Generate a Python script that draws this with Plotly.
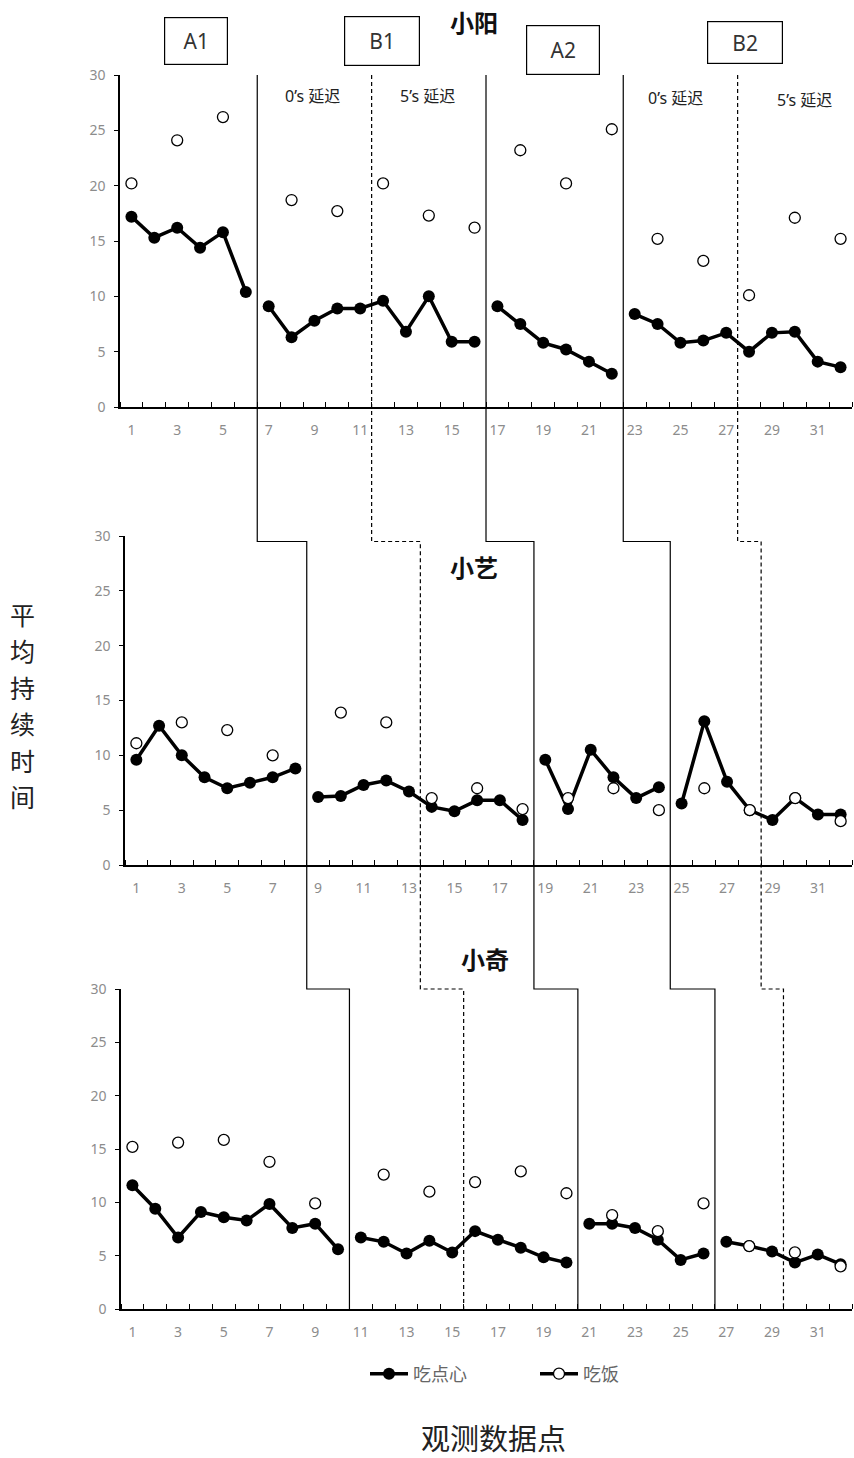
import plotly.graph_objects as go

W, H = 854, 1458

# ---------------- data ----------------
obs = list(range(1, 33))
x_tick_vals = list(range(1, 33, 2))
y_tick_vals = [0, 5, 10, 15, 20, 25, 30]

panel_names = ["小阳", "小艺", "小奇"]

# 小阳
yang_snack = [17.2, 15.3, 16.2, 14.4, 15.8, 10.4, 9.1, 6.3, 7.8, 8.9, 8.9, 9.6, 6.8, 10.0, 5.9, 5.9,
              9.1, 7.5, 5.8, 5.2, 4.1, 3.0, 8.4, 7.5, 5.8, 6.0, 6.7, 5.0, 6.7, 6.8, 4.1, 3.6]
yang_meal_x = [1, 3, 5, 8, 10, 12, 14, 16, 18, 20, 22, 24, 26, 28, 30, 32]
yang_meal = [20.2, 24.1, 26.2, 18.7, 17.7, 20.2, 17.3, 16.2, 23.2, 20.2, 25.1, 15.2, 13.2, 10.1, 17.1, 15.2]

# 小艺
yi_snack = [9.6, 12.7, 10.0, 8.0, 7.0, 7.5, 8.0, 8.8, 6.2, 6.3, 7.3, 7.7, 6.7, 5.3, 4.9, 5.9,
            5.9, 4.1, 9.6, 5.1, 10.5, 8.0, 6.1, 7.1, 5.6, 13.1, 7.6, 5.0, 4.1, 6.1, 4.6, 4.6]
yi_meal_x = [1, 3, 5, 7, 10, 12, 14, 16, 18, 20, 22, 24, 26, 28, 30, 32]
yi_meal = [11.1, 13.0, 12.3, 10.0, 13.9, 13.0, 6.1, 7.0, 5.1, 6.1, 7.0, 5.0, 7.0, 5.0, 6.1, 4.0]

# 小奇
qi_snack = [11.6, 9.4, 6.7, 9.1, 8.6, 8.3, 9.85, 7.6, 8.0, 5.6, 6.7, 6.3, 5.2, 6.4, 5.3, 7.3,
            6.5, 5.75, 4.85, 4.35, 8.0, 8.0, 7.6, 6.5, 4.6, 5.2, 6.3, 5.9, 5.4, 4.35, 5.1, 4.2]
qi_meal_x = [1, 3, 5, 7, 9, 12, 14, 16, 18, 20, 22, 24, 26, 28, 30, 32]
qi_meal = [15.2, 15.6, 15.85, 13.8, 9.9, 12.6, 11.0, 11.9, 12.9, 10.85, 8.8, 7.3, 9.9, 5.9, 5.3, 4.0]

# phase change lines (observation positions) per panel
phase_change_top = [6.5, 11.5, 16.5, 22.5, 27.5]
phase_change_mid = [8.5, 13.5, 18.5, 24.5, 28.5]
phase_change_bot = [10.5, 15.5, 20.5, 26.5, 29.5]
phase_change_kind = ["solid", "dash", "solid", "solid", "dash"]

phase_labels = ["A1", "B1", "A2", "B2"]
delay_labels = ["0’s 延迟", "5’s 延迟", "0’s 延迟", "5’s 延迟"]

legend_names = ["吃点心", "吃饭"]
y_title = "平均持续时间"
x_title = "观测数据点"

# ---------------- layout geometry ----------------
XR = [0.5, 32.5]
YR = [0, 30]
xdom = [[120 / W, 852 / W], [125 / W, 852 / W], [121 / W, 852 / W]]
ydom = [[1 - 407 / H, 1 - 75 / H], [1 - 865 / H, 1 - 536 / H], [1 - 1309 / H, 1 - 989 / H]]


def paper_x(p, v):
    d0, d1 = xdom[p]
    return d0 + (v - XR[0]) / (XR[1] - XR[0]) * (d1 - d0)


def paper_y(p, v):
    d0, d1 = ydom[p]
    return d0 + (v - YR[0]) / (YR[1] - YR[0]) * (d1 - d0)


def px2x(px):
    return px / W


def px2y(px):
    return 1 - px / H


fig = go.Figure()

snacks = [yang_snack, yi_snack, qi_snack]
meals_x = [yang_meal_x, yi_meal_x, qi_meal_x]
meals = [yang_meal, yi_meal, qi_meal]
changes = [phase_change_top, phase_change_mid, phase_change_bot]

for p in range(3):
    xa = "x" if p == 0 else f"x{p + 1}"
    ya = "y" if p == 0 else f"y{p + 1}"
    solid_breaks = [c for c, k in zip(changes[p], phase_change_kind) if k == "solid"]
    # snack line, broken at solid phase-change lines
    sx, sy = [], []
    for xv, yv in zip(obs, snacks[p]):
        if sx and any(sx[-1] is not None and sx[-1] < b < xv for b in solid_breaks):
            sx.append(None)
            sy.append(None)
        sx.append(xv)
        sy.append(yv)
    fig.add_trace(go.Scatter(
        x=sx, y=sy, mode="lines+markers", xaxis=xa, yaxis=ya,
        name=legend_names[0], legendgroup="snack", showlegend=(p == 0),
        line=dict(color="black", width=3.5), connectgaps=False,
        marker=dict(symbol="circle", size=12, color="black"),
    ))
    # meal points (isolated points, no connecting line)
    mx, my = [], []
    for xv, yv in zip(meals_x[p], meals[p]):
        mx += [xv, None]
        my += [yv, None]
    fig.add_trace(go.Scatter(
        x=mx, y=my, mode="lines+markers", xaxis=xa, yaxis=ya,
        name=legend_names[1], legendgroup="meal", showlegend=(p == 0),
        line=dict(color="black", width=3.5), connectgaps=False,
        marker=dict(symbol="circle", size=11, color="white",
                    line=dict(color="black", width=1.3)),
    ))

tick_font = dict(family="Noto Sans, Open Sans, sans-serif", size=14, color="#8c8c8c")
layout_axes = {}
for p in range(3):
    xk = "xaxis" if p == 0 else f"xaxis{p + 1}"
    yk = "yaxis" if p == 0 else f"yaxis{p + 1}"
    ya = "y" if p == 0 else f"y{p + 1}"
    xa = "x" if p == 0 else f"x{p + 1}"
    layout_axes[xk] = dict(
        domain=xdom[p], range=XR, anchor=ya, showgrid=False, zeroline=False,
        showline=True, linecolor="black", linewidth=1.5,
        tickmode="array", tickvals=x_tick_vals, ticks="", tickfont=tick_font,
        ticklabelstandoff=9, automargin=False,
        minor=dict(tickmode="linear", tick0=0.5, dtick=1, ticks="inside",
                   ticklen=5, tickcolor="black", tickwidth=1, showgrid=False),
    )
    layout_axes[yk] = dict(
        domain=ydom[p], range=YR, anchor=xa, showgrid=False, zeroline=False,
        showline=True, linecolor="black", linewidth=1.5, automargin=False,
        tickmode="array", tickvals=y_tick_vals, ticks="outside", ticklen=4,
        tickcolor="black", tickfont=tick_font, ticklabelstandoff=6,
    )

# phase-change staircase lines
shapes = []
for i, kind in enumerate(phase_change_kind):
    xt, xm, xb = phase_change_top[i], phase_change_mid[i], phase_change_bot[i]
    pts = [
        (paper_x(0, xt), paper_y(0, 30)),
        (paper_x(0, xt), paper_y(1, 29.5)),
        (paper_x(1, xm), paper_y(1, 29.5)),
        (paper_x(1, xm), paper_y(2, 30)),
        (paper_x(2, xb), paper_y(2, 30)),
        (paper_x(2, xb), paper_y(2, 0)),
    ]
    path = "M " + " L ".join(f"{a:.5f},{b:.5f}" for a, b in pts)
    shapes.append(dict(
        type="path", path=path, xref="paper", yref="paper",
        line=dict(color="black", width=1.2, dash="solid" if kind == "solid" else "4px,3px"),
        layer="above",
    ))

cjk = "Noto Sans CJK SC, sans-serif"
mixed = "Noto Sans, Noto Sans CJK SC, sans-serif"
annotations = []
# boxed phase labels
box_specs = [(196, 41, 62, 46), (382, 41, 74, 48), (563, 50, 72, 48), (745, 43, 74, 41)]
for lab, (cx, cy, bw, bh) in zip(phase_labels, box_specs):
    annotations.append(dict(
        text=lab, x=px2x(cx), y=px2y(cy), xref="paper", yref="paper",
        showarrow=False, width=bw, height=bh, borderpad=0,
        bordercolor="black", borderwidth=1.2, bgcolor="white",
        font=dict(family="Noto Sans, sans-serif", size=21, color="#333"),
        xanchor="center", yanchor="middle",
    ))
# delay labels
delay_pos = [(312, 96), (427, 96), (675, 98), (804, 100)]
for lab, (cx, cy) in zip(delay_labels, delay_pos):
    annotations.append(dict(
        text=lab, x=px2x(cx), y=px2y(cy), xref="paper", yref="paper",
        showarrow=False, font=dict(family=mixed, size=16, color="#222"),
        xanchor="center", yanchor="middle",
    ))
# panel titles
title_pos = [(474, 22), (474, 567), (485, 958)]
for name, (cx, cy) in zip(panel_names, title_pos):
    annotations.append(dict(
        text=f"<b>{name}</b>", x=px2x(cx), y=px2y(cy), xref="paper", yref="paper",
        showarrow=False, font=dict(family=cjk, size=24, color="#111"),
        xanchor="center", yanchor="middle",
    ))
# vertical y-axis title: one upright character per row
n_chars = len(y_title)
pitch = 36.5
for k, ch in enumerate(y_title):
    cy = 705 + (k - (n_chars - 1) / 2) * pitch
    annotations.append(dict(
        text=ch, x=px2x(22), y=px2y(cy), xref="paper", yref="paper",
        showarrow=False, font=dict(family=cjk, size=25, color="#222"),
        xanchor="center", yanchor="middle",
    ))
annotations.append(dict(
    text=x_title, x=px2x(493), y=px2y(1437), xref="paper", yref="paper",
    showarrow=False, font=dict(family=cjk, size=29, color="#222"),
    xanchor="center", yanchor="middle",
))

fig.update_layout(
    width=W, height=H,
    margin=dict(l=0, r=0, t=0, b=0, pad=0, autoexpand=False),
    paper_bgcolor="white", plot_bgcolor="white",
    shapes=shapes, annotations=annotations,
    showlegend=True,
    legend=dict(
        orientation="h", x=px2x(365), y=px2y(1374), xanchor="left", yanchor="middle",
        font=dict(family=cjk, size=18, color="#666"),
        entrywidth=117, entrywidthmode="pixels", itemwidth=38,
        bgcolor="rgba(0,0,0,0)",
    ),
    **layout_axes,
)

fig.write_html(
    "out.html",
    config={"displayModeBar": False},
    post_script="document.body.style.margin='0';document.body.style.overflow='hidden';",
)
